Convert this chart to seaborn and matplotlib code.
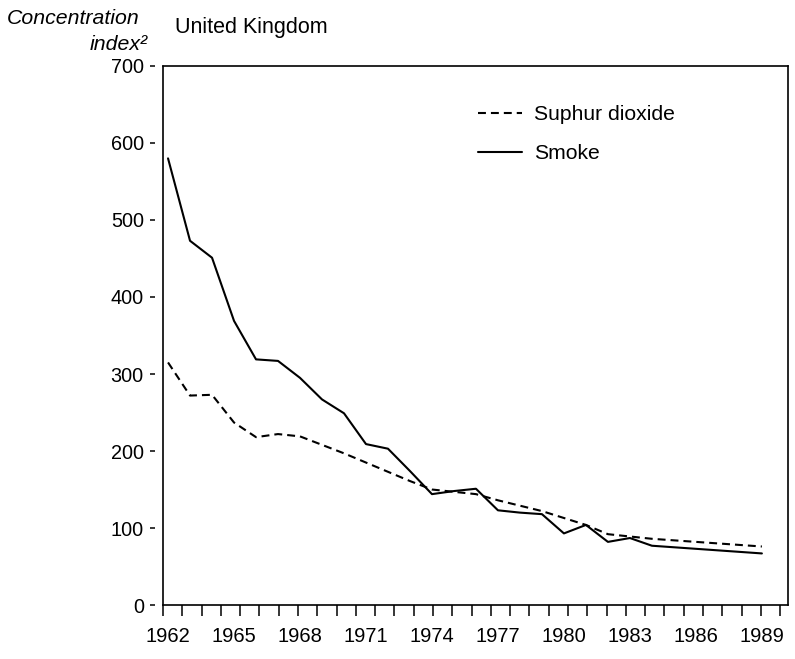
import numpy as np
import pandas as pd
import matplotlib
matplotlib.use("Agg")
import matplotlib.pyplot as plt
from matplotlib.ticker import FixedLocator
import seaborn as sns

years = list(range(1962, 1990))
smoke = [580, 473, 451, 369, 319, 317, 295, 267, 249, 209, 203, 174, 144, 148,
         151, 123, 120, 118, 93, 104, 82, 87, 77, 75, 73, 71, 69, 67]
so2 = [315, 272, 273, 237, 218, 222, 219, 208, 197, 185, 173, 161, 150, 147,
       144, 136, 129, 122, 113, 104, 92, 89, 86, 84, 82, 80, 78, 76]
series_names = ["Suphur dioxide", "Smoke"]
xtick_years = list(range(1962, 1990, 3))
yticks = list(range(0, 701, 100))

df = pd.DataFrame({
    "Year": years * 2,
    "Value": so2 + smoke,
    "Series": [series_names[0]] * len(years) + [series_names[1]] * len(years),
})

sns.set_style("white")
plt.rcParams["font.family"] = ["Liberation Sans", "DejaVu Sans"]
plt.rcParams["text.color"] = "black"
plt.rcParams["axes.labelcolor"] = "black"

fig = plt.figure(figsize=(7.95, 6.59), dpi=100)
ax = fig.add_axes([0.205, 0.0819, 0.786, 0.818])

sns.lineplot(data=df, x="Year", y="Value", style="Series",
             style_order=series_names,
             dashes={series_names[0]: (3.8, 2.4), series_names[1]: ""},
             color="black", linewidth=1.5, ax=ax)

XLIM = (1961.77, 1990.18)
ax.set_xlim(*XLIM)
ax.set_ylim(0, 700)

ax.set_xticks(xtick_years)
ax.set_xticklabels([str(y) for y in xtick_years])
ax.xaxis.set_minor_locator(FixedLocator(np.arange(XLIM[0], XLIM[1] - 0.2, 0.877)))
ax.set_yticks(yticks)
ax.set_yticklabels([str(v) for v in yticks])

ax.tick_params(axis="x", which="major", length=0, pad=16, labelsize=14.5, colors="black")
ax.tick_params(axis="x", which="minor", bottom=True, length=8, width=1.1, direction="out", color="black")
ax.tick_params(axis="y", which="major", left=True, length=3.8, width=1.1, pad=4, labelsize=14.3, colors="black")

for s in ["top", "right", "bottom"]:
    ax.spines[s].set_visible(True)
    ax.spines[s].set_color("black")
    ax.spines[s].set_linewidth(1.2)
ax.spines["left"].set_position(("outward", 6))
ax.spines["left"].set_visible(False)
ax.axvline(XLIM[0], color="black", linewidth=1.2, clip_on=False)

ax.set_xlabel("")
ax.set_ylabel("")

handles, labels = ax.get_legend_handles_labels()
leg = ax.legend(handles, labels, loc="upper left", bbox_to_anchor=(0.504, 0.927),
                frameon=False, fontsize=15.2, handlelength=2.1, handletextpad=0.55,
                labelspacing=0.95, borderpad=0, borderaxespad=0)
for line in leg.get_lines():
    line.set_linewidth(1.5)
for t in leg.get_texts():
    t.set_color("black")

fig.text(140 / 795, 1 - 18 / 659, "Concentration", ha="right", va="center",
         fontsize=15.3, style="italic", color="black")
fig.text(148 / 795, 1 - 45 / 659, "index²", ha="right", va="center",
         fontsize=15.3, style="italic", color="black")
fig.text(175 / 795, 1 - 27 / 659, "United Kingdom", ha="left", va="center",
         fontsize=15.5, color="black")

fig.savefig("out.png", dpi=100)
